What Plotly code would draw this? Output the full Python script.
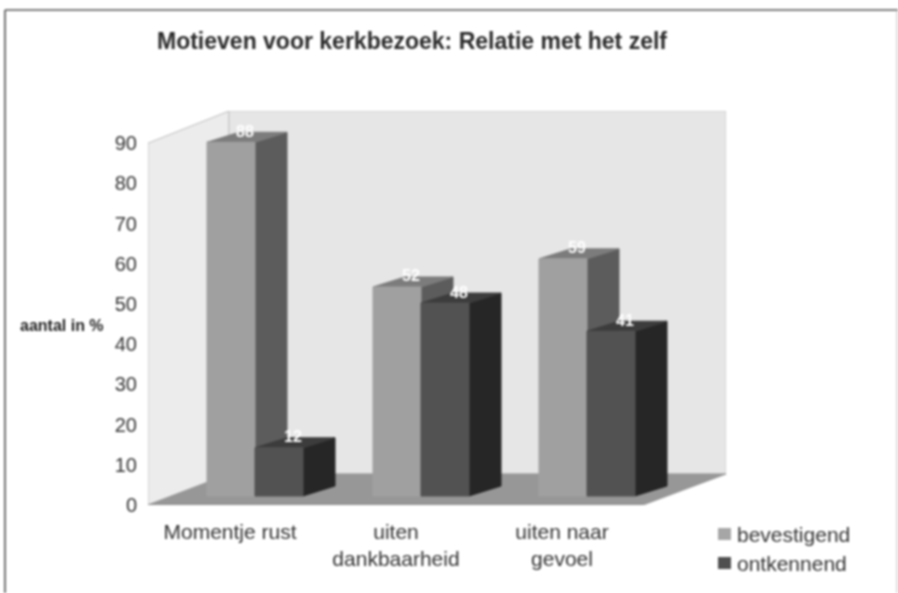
import plotly.graph_objects as go

categories = ["Momentje rust", "uiten<br>dankbaarheid", "uiten naar<br>gevoel"]
bevestigend = [88, 52, 59]
ontkennend = [12, 48, 41]
y_ticks = [0, 10, 20, 30, 40, 50, 60, 70, 80, 90]

W, H = 898, 593
# plot box in pixels
left, right, top, bottom = 148, 726, 111, 505
px_x = 166.0    # pixels per category
px_y = 4.02     # pixels per percent
x_min = -107 / px_x
x_max = x_min + (right - left) / px_x
y_max = (bottom - top) / px_y

bar_w = 48 / px_x
side_x, side_y = 32 / px_x, 10 / px_y    # depth of a bar
wall_x, wall_y = 81 / px_x, 31 / px_y    # depth of the floor
lift = 9 / px_y                          # bars stand a bit behind the front edge
front_end = x_min + 495 / px_x
label_shift = -25 / px_x

fig = go.Figure()


def face(xs, ys, color, line=None):
    fig.add_trace(go.Scatter(x=xs, y=ys, mode="lines", fill="toself", fillcolor=color,
                             line=dict(color=line or color, width=1),
                             hoverinfo="skip", showlegend=False, cliponaxis=False))


def px(v):
    return (v - left) / (right - left)


def py(v):
    return (bottom - v) / (bottom - top)


# walls and floor
wx0, wx1 = x_min + wall_x, x_max
face([x_min, x_min, wx0, wx0, x_min], [0, 90, y_max, wall_y, 0], "#ececec", "#bdbdbd")
face([wx0, wx1, wx1, wx0, wx0], [wall_y, wall_y, y_max, y_max, wall_y], "#e6e6e6", "#c4c4c4")
face([x_min, front_end, wx1, wx0, x_min], [0, 0, wall_y, wall_y, 0], "#979797")
fig.add_trace(go.Scatter(x=[x_min, front_end], y=[0, 0], mode="lines", line=dict(color="#8a8a8a", width=1.5),
                         hoverinfo="skip", showlegend=False, cliponaxis=False))


def bar3d(x0, v, front, side, cap):
    x1 = x0 + bar_w
    y0, y1 = lift, lift + v
    face([x1, x1 + side_x, x1 + side_x, x1, x1], [y0, y0 + side_y, y1 + side_y, y1, y0], side)
    face([x0, x1, x1 + side_x, x0 + side_x, x0], [y1, y1, y1 + side_y, y1 + side_y, y1], cap)
    face([x0, x1, x1, x0, x0], [y0, y0, y1, y1, y0], front)


for i in range(3):
    bar3d(i - bar_w, bevestigend[i], "#a0a0a0", "#5c5c5c", "#7c7c7c")
    bar3d(i, ontkennend[i], "#525252", "#262626", "#3c3c3c")

# value labels on the top of each bar
for i in range(3):
    for x0, v in ((i - bar_w, bevestigend[i]), (i, ontkennend[i])):
        fig.add_annotation(x=x0 + bar_w / 2 + side_x / 2 - 2 / px_x, y=lift + v + side_y / 2 + 1.5, text="<b>%d</b>" % v,
                           showarrow=False, font=dict(family="Liberation Sans", size=16, color="#ffffff"))

fig.update_layout(
    width=W, height=H,
    margin=dict(l=left, r=W - right, t=top, b=H - bottom),
    paper_bgcolor="white", plot_bgcolor="white",
    showlegend=False,
    font=dict(family="Liberation Sans", color="#333333"),
    title=dict(text="<b>Motieven voor kerkbezoek: Relatie met het zelf</b>",
               x=412 / W, xanchor="center", y=1 - 41 / H, yanchor="middle",
               font=dict(size=23, color="#2a2a2a")),
    xaxis=dict(range=[x_min, x_max], tickvals=[i + label_shift for i in range(3)], ticktext=categories,
               showgrid=False, zeroline=False, showline=False, ticks="",
               tickfont=dict(size=21, color="#333333"), ticklabelstandoff=12),
    yaxis=dict(range=[0, y_max], tickvals=y_ticks, showgrid=False, zeroline=False, showline=False,
               ticks="", tickfont=dict(size=20, color="#333333"), ticklabelstandoff=10),
)

fig.add_annotation(xref="paper", yref="paper", x=px(18), y=py(325), xanchor="left", yanchor="middle",
                   text="<b>aantal in %</b>", showarrow=False, font=dict(size=16, color="#222222"))

# legend
for name, color, ly in (("bevestigend", "#a6a6a6", 534), ("ontkennend", "#4f4f4f", 563)):
    fig.add_shape(type="rect", xref="paper", yref="paper", x0=px(718), x1=px(731),
                  y0=py(ly + 6), y1=py(ly - 6), fillcolor=color, line_width=0)
    fig.add_annotation(xref="paper", yref="paper", x=px(735), y=py(ly), xanchor="left", yanchor="middle",
                       text=name, showarrow=False, font=dict(size=21, color="#333333"))

# scan frame
fig.add_shape(type="line", xref="paper", yref="paper", x0=px(5), x1=px(5), y0=py(H), y1=py(10),
              line=dict(color="#444444", width=1.5))
fig.add_shape(type="line", xref="paper", yref="paper", x0=px(5), x1=px(W), y0=py(10), y1=py(10),
              line=dict(color="#555555", width=1.5))
fig.add_shape(type="line", xref="paper", yref="paper", x0=px(897), x1=px(897), y0=py(H), y1=py(10),
              line=dict(color="#bbbbbb", width=1))

# small ticks under the front edge
for i in range(4):
    x = x_min + i * (front_end - x_min) / 3
    fig.add_shape(type="line", x0=x, x1=x, yref="y", y0=0, y1=-1.2, line=dict(color="#999999", width=1))

fig.write_html("out.html", config=dict(displayModeBar=False),
               post_script="document.body.style.margin='0';document.body.style.overflow='hidden';"
               "document.querySelector('.plotly-graph-div').style.filter='blur(0.8px)';")
